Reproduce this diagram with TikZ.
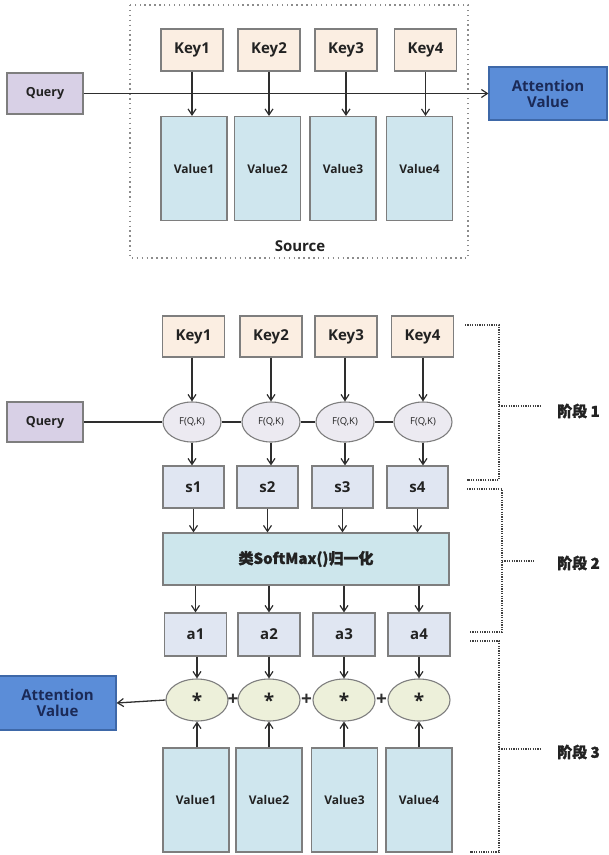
\documentclass[tikz,border=0pt]{standalone}
\usepackage{fontspec}
\setmainfont{Open Sans}
\newfontfamily\cjk{Noto Sans CJK SC}[FakeBold=1.5]
\usetikzlibrary{arrows.meta,shapes.geometric}
\definecolor{keyfill}{HTML}{FBEEE2}
\definecolor{qfill}{HTML}{D8D0E6}
\definecolor{attfill}{HTML}{5B8DD8}
\definecolor{attdraw}{HTML}{3E68A8}
\definecolor{atttext}{HTML}{1B2A57}
\definecolor{valfill}{HTML}{CFE6EE}
\definecolor{sfill}{HTML}{E0E6F2}
\definecolor{smfill}{HTML}{CDE6EC}
\definecolor{ffill}{HTML}{ECEAF1}
\definecolor{mfill}{HTML}{EDF0DA}
\definecolor{edgegray}{HTML}{7E7E7E}
\definecolor{lncol}{HTML}{2E2E2E}
\definecolor{txt}{HTML}{222222}
\begin{document}
\begin{tikzpicture}[x=1pt,y=-1pt,
  box/.style={draw=edgegray,line width=1.1pt,inner sep=0pt,text=txt},
  keybox/.style={box,fill=keyfill,minimum width=62pt,minimum height=42pt,font=\bfseries\fontsize{15}{15}\selectfont},
  qbox/.style={box,fill=qfill,minimum width=76pt,minimum height=40pt,font=\bfseries\fontsize{12.5}{12.5}\selectfont},
  attbox/.style={draw=attdraw,line width=1.1pt,fill=attfill,text=atttext,inner sep=0pt,align=center,font=\bfseries\fontsize{15}{16}\selectfont},
  valbox/.style={box,fill=valfill,minimum width=66pt,minimum height=104pt,font=\bfseries\fontsize{12}{12}\selectfont},
  sbox/.style={box,fill=sfill,minimum width=61pt,minimum height=42pt,font=\bfseries\fontsize{15}{15}\selectfont},
  smbox/.style={box,fill=smfill,minimum width=286pt,minimum height=52pt,font=\cjk\bfseries\fontsize{15}{15}\selectfont},
  fell/.style={ellipse,draw=edgegray,line width=1.1pt,fill=ffill,minimum width=58pt,minimum height=40pt,inner sep=0pt,text=txt,font=\fontsize{9.5}{9.5}\selectfont},
  mell/.style={ellipse,draw=edgegray,line width=1.1pt,fill=mfill,minimum width=62pt,minimum height=42pt,inner sep=0pt,text=txt,font=\bfseries\fontsize{19}{19}\selectfont},
  plusnode/.style={inner sep=0pt,text=lncol,font=\bfseries\fontsize{19}{19}\selectfont},
  arr/.style={draw=lncol,line width=1.3pt,-{Straight Barb[length=6pt,width=8pt,line width=1.2pt]}},
  conn/.style={draw=lncol,line width=1.3pt},
  brk/.style={draw=black!75,line width=1.2pt,dash pattern=on 1.2pt off 1.2pt},
  frame/.style={draw=black!45,line width=1.4pt,dash pattern=on 1.4pt off 3.5pt},
  stage/.style={anchor=west,inner sep=0pt,text=txt,font=\cjk\bfseries\fontsize{15}{15}\selectfont}
]
\useasboundingbox (0,0) rectangle (609,855);

% ---------- top diagram ----------
\draw[frame] (130,5) rectangle (468,258);
\node[keybox] (tk1) at (192,50) {Key1};
\node[keybox] (tk2) at (269,50) {Key2};
\node[keybox] (tk3) at (346,50) {Key3};
\node[keybox] (tk4) at (425.5,50) {Key4};
\node[valbox] (tv1) at (194,168.5) {Value1};
\node[valbox] (tv2) at (267.5,168.5) {Value2};
\node[valbox] (tv3) at (343,168.5) {Value3};
\node[valbox] (tv4) at (419.5,168.5) {Value4};
\node[qbox,minimum height=41pt] (tq) at (45,93.5) {Query};
\node[attbox,minimum width=118pt,minimum height=53pt] (ta) at (548,93.5) {Attention\\Value};
\node[inner sep=0pt,text=txt,font=\bfseries\fontsize{15}{15}\selectfont] (src) at (300,246) {Source};
\draw[arr] (tq.east) -- (ta.west);
\foreach \i in {1,2,3,4}{
  \draw[arr] (tk\i.south) -- (tk\i.south |- tv\i.north);
}

% ---------- bottom diagram ----------
\node[keybox,minimum height=41pt] (k1) at (193.5,336.5) {Key1};
\node[keybox,minimum height=41pt] (k2) at (271,336.5) {Key2};
\node[keybox,minimum height=41pt] (k3) at (346,336.5) {Key3};
\node[keybox,minimum height=41pt] (k4) at (422.5,336.5) {Key4};

\node[qbox] (q) at (45,422) {Query};
\node[fell] (f1) at (192,422) {F(Q,K)};
\node[fell] (f2) at (271,422) {F(Q,K)};
\node[fell] (f3) at (345,422) {F(Q,K)};
\node[fell] (f4) at (423,422) {F(Q,K)};

\node[sbox] (s1) at (193.5,487) {s1};
\node[sbox] (s2) at (267.5,487) {s2};
\node[sbox] (s3) at (342.5,487) {s3};
\node[sbox] (s4) at (417.5,487) {s4};

\node[smbox] (sm) at (306,559) {类SoftMax()归一化};

\node[sbox,minimum width=62pt,minimum height=43pt] (a1) at (195.5,634.5) {a1};
\node[sbox,minimum width=62pt,minimum height=43pt] (a2) at (269,634.5) {a2};
\node[sbox,minimum width=62pt,minimum height=43pt] (a3) at (344,634.5) {a3};
\node[sbox,minimum width=62pt,minimum height=43pt] (a4) at (419,634.5) {a4};

\node[mell] (m1) at (197,700) {*};
\node[mell] (m2) at (269,700) {*};
\node[mell] (m3) at (344,700) {*};
\node[mell] (m4) at (419,700) {*};
\node[plusnode] (p1) at (233,700) {+};
\node[plusnode] (p2) at (306.5,700) {+};
\node[plusnode] (p3) at (381.5,700) {+};

\node[attbox,minimum width=117pt,minimum height=54pt] (ba) at (57.5,703) {Attention\\Value};

\node[valbox] (v1) at (196,800) {Value1};
\node[valbox] (v2) at (269,800) {Value2};
\node[valbox] (v3) at (344.5,800) {Value3};
\node[valbox] (v4) at (419,800) {Value4};

% connectors
\draw[conn] (q.east) -- (f1.west);
\draw[conn] (f1.east) -- (f2.west);
\draw[conn] (f2.east) -- (f3.west);
\draw[conn] (f3.east) -- (f4.west);
\foreach \i in {1,2,3,4}{
  \draw[arr] (f\i.north |- k\i.south) -- (f\i.north);
  \draw[arr] (f\i.south) -- (f\i.south |- s\i.north);
  \draw[arr] (s\i.south) -- (s\i.south |- sm.north);
  \draw[arr] (a\i.north |- sm.south) -- (a\i.north);
  \draw[arr] (m\i.north |- a\i.south) -- (m\i.north);
  \draw[arr] (m\i.south |- v\i.north) -- (m\i.south);
}
\draw[arr] (m1.west) -- (ba.east);

% stage brackets
\draw[brk] (465,325) -- (499,325) -- (499,480) -- (467,480);
\draw[brk] (499,406) -- (540,406);
\node[stage] (st1) at (557,411) {阶段 1};
\draw[brk] (467,489) -- (502,489) -- (502,632) -- (470,632);
\draw[brk] (502,561) -- (535,561);
\node[stage] (st2) at (557,563) {阶段 2};
\draw[brk] (470,641) -- (499,641) -- (499,852) -- (470,852);
\draw[brk] (499,749) -- (540,749);
\node[stage] (st3) at (557,752) {阶段 3};
\end{tikzpicture}
\end{document}
